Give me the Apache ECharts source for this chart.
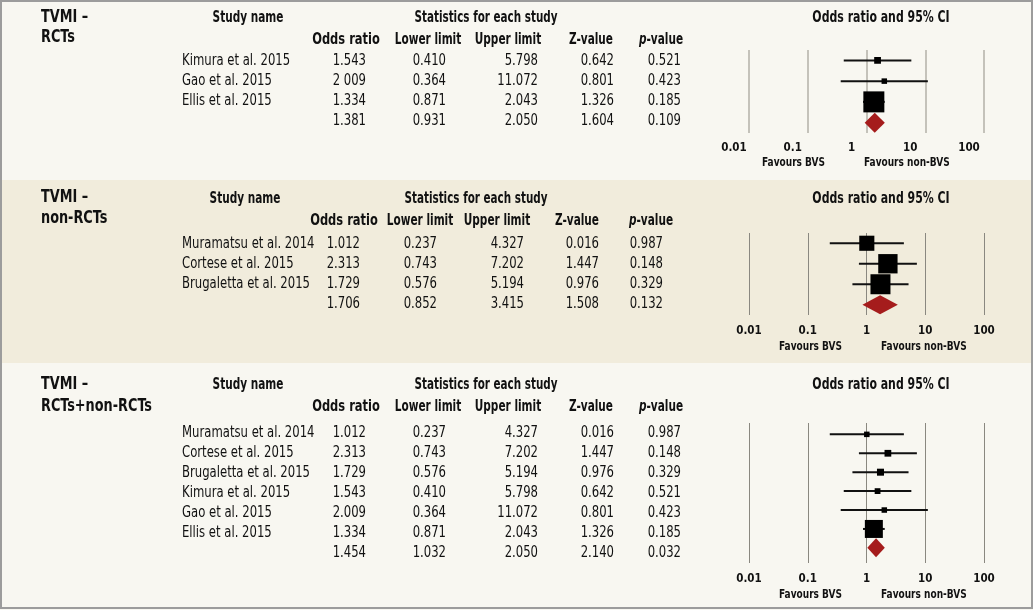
<!DOCTYPE html>
<html>
<head>
<meta charset="utf-8">
<script src="https://cdn.jsdelivr.net/npm/echarts@6/dist/echarts.min.js"></script>
<style>
html,body{margin:0;padding:0;background:#f8f7f1;}
#chart{width:1033px;height:610px;}
</style>
</head>
<body>
<div id="chart"></div>
<script>
// ---------- DATA ----------
const tickLabels = ['0.01', '0.1', '1', '10', '100'];

// Panel 1: TVMI – RCTs
const p1Studies = ['Kimura et al. 2015', 'Gao et al. 2015', 'Ellis et al. 2015'];
const p1OR     = [1.543, 2.009, 1.334];
const p1ORText = ['1.543', '2 009', '1.334'];
const p1Lower  = [0.410, 0.364, 0.871];
const p1Upper  = [5.798, 11.072, 2.043];
const p1Z      = [0.642, 0.801, 1.326];
const p1P      = [0.521, 0.423, 0.185];
const p1Weight = [8.9, 5.4, 85.7];
const p1Summary = [1.381, 0.931, 2.050, 1.604, 0.109];

// Panel 2: TVMI – non-RCTs
const p2Studies = ['Muramatsu et al. 2014', 'Cortese et al. 2015', 'Brugaletta et al. 2015'];
const p2OR     = [1.012, 2.313, 1.729];
const p2Lower  = [0.237, 0.743, 0.576];
const p2Upper  = [4.327, 7.202, 5.194];
const p2Z      = [0.016, 1.447, 0.976];
const p2P      = [0.987, 0.148, 0.329];
const p2Weight = [22.8, 37.3, 39.9];
const p2Summary = [1.706, 0.852, 3.415, 1.508, 0.132];

// Panel 3: TVMI – RCTs+non-RCTs
const p3Studies = ['Muramatsu et al. 2014', 'Cortese et al. 2015', 'Brugaletta et al. 2015',
                   'Kimura et al. 2015', 'Gao et al. 2015', 'Ellis et al. 2015'];
const p3OR     = [1.012, 2.313, 1.729, 1.543, 2.009, 1.334];
const p3Lower  = [0.237, 0.743, 0.576, 0.410, 0.364, 0.871];
const p3Upper  = [4.327, 7.202, 5.194, 5.798, 11.072, 2.043];
const p3Z      = [0.016, 1.447, 0.976, 0.642, 0.801, 1.326];
const p3P      = [0.987, 0.148, 0.329, 0.521, 0.423, 0.185];
const p3Weight = [5.6, 9.1, 9.8, 6.7, 4.1, 64.7];
const p3Summary = [1.454, 1.032, 2.050, 2.140, 0.032];

// ---------- LAYOUT / STYLE ----------
const FONT = "'Liberation Sans Narrow','DejaVu Sans Condensed','Arial Narrow',sans-serif";
const colsA = {or: [366, 346], ll: [446, 428], ul: [538, 508], z: [614, 591], p: [681, 661]};
const colsB = {or: [360, 344], ll: [437, 420], ul: [524, 497], z: [599, 577], p: [663, 651]};

const panels = [
  {title: ['TVMI –', 'RCTs'], studies: p1Studies, or: p1OR, orText: p1ORText, lo: p1Lower, up: p1Upper,
   z: p1Z, p: p1P, w: p1Weight, sum: p1Summary,
   bg: [0, 180, '#f8f7f1'], titleY: [18, 38], head1: 18, head2: 40, row0: 61, step: 20,
   gridTop: 50, gridH: 83, yMin: -0.5, yMax: 3.5, favY: 163, favL: 825, favR: 864,
   labelMargin: 9, labelShift: 30, gridColor: '#c4c2ba', gridWidth: 2,
   studyX: 248, statsX: 486, cols: colsA, maxSq: 21, dH: 20},
  {title: ['TVMI –', 'non-RCTs'], studies: p2Studies, or: p2OR, lo: p2Lower, up: p2Upper,
   z: p2Z, p: p2P, w: p2Weight, sum: p2Summary,
   bg: [180, 363, '#f1ecdc'], titleY: [198, 219], head1: 199, head2: 221, row0: 244, step: 20,
   gridTop: 233, gridH: 82, yMin: -0.5, yMax: 3.5, favY: 347, favL: 842, favR: 881,
   labelMargin: 10, labelShift: 0, gridColor: '#8a8880', gridWidth: 1,
   studyX: 245, statsX: 476, cols: colsB, maxSq: 20, dH: 19},
  {title: ['TVMI –', 'RCTs+non-RCTs'], studies: p3Studies, or: p3OR, lo: p3Lower, up: p3Upper,
   z: p3Z, p: p3P, w: p3Weight, sum: p3Summary,
   bg: [363, 610, '#f8f7f1'], titleY: [385, 407], head1: 385, head2: 407, row0: 433, step: 20,
   gridTop: 423, gridH: 140, yMin: -0.6, yMax: 6.8, favY: 595, favL: 842, favR: 881,
   labelMargin: 10, labelShift: 0, gridColor: '#8a8880', gridWidth: 1,
   studyX: 248, statsX: 486, cols: colsA, maxSq: 18, dH: 19}
];

const graphics = [];
const grids = [], xAxes = [], yAxes = [], series = [];

function txt(text, x, y, opt) {
  opt = opt || {};
  const sx = opt.sx || (opt.bold ? 0.78 : 0.81);
  const el = {
    type: 'text', z: 10, silent: true, x: x, y: y, scaleX: sx, scaleY: 1,
    style: {
      text: text, x: 0, y: 0,
      font: (opt.bold ? 'bold ' : '') + (opt.size || 16) + 'px ' + FONT,
      fill: '#111', align: opt.align || 'left', verticalAlign: 'middle'
    }
  };
  if (opt.rich) el.style.rich = opt.rich;
  graphics.push(el);
}
const f3 = v => v.toFixed(3);

panels.forEach((P, i) => {
  // background
  graphics.push({type: 'rect', z: 0, silent: true,
    shape: {x: 0, y: P.bg[0], width: 1033, height: P.bg[1] - P.bg[0]},
    style: {fill: P.bg[2]}});
  // section title
  txt(P.title[0], 41, P.titleY[0], {bold: true, size: 17, sx: 0.84});
  txt(P.title[1], 41, P.titleY[1], {bold: true, size: 17, sx: 0.84});
  // headers
  txt('Study name', P.studyX, P.head1, {bold: true, size: 15, align: 'center'});
  txt('Statistics for each study', P.statsX, P.head1, {bold: true, size: 15, sx: 0.77, align: 'center'});
  txt('Odds ratio', P.cols.or[1], P.head2, {bold: true, size: 15, sx: 0.85, align: 'center'});
  txt('Lower limit', P.cols.ll[1], P.head2, {bold: true, size: 15, align: 'center'});
  txt('Upper limit', P.cols.ul[1], P.head2, {bold: true, size: 15, align: 'center'});
  txt('Z-value', P.cols.z[1], P.head2, {bold: true, size: 15, align: 'center'});
  txt('{i|p}-value', P.cols.p[1], P.head2, {bold: true, size: 15, align: 'center',
      rich: {i: {fontStyle: 'italic', fontWeight: 'bold', fontSize: 15, fontFamily: FONT, fill: '#111'}}});
  txt('Odds ratio and 95% CI', 881, P.head1, {bold: true, size: 16, sx: 0.76, align: 'center'});
  txt('Favours BVS', P.favL, P.favY, {bold: true, size: 13, sx: 0.77, align: 'right'});
  txt('Favours non-BVS', P.favR, P.favY, {bold: true, size: 13, sx: 0.77, align: 'left'});

  const data = [];
  P.studies.forEach((s, k) => {
    const y = P.row0 + k * P.step;
    txt(s, 182, y);
    txt(P.orText ? P.orText[k] : f3(P.or[k]), P.cols.or[0], y, {align: 'right'});
    txt(f3(P.lo[k]), P.cols.ll[0], y, {align: 'right'});
    txt(f3(P.up[k]), P.cols.ul[0], y, {align: 'right'});
    txt(f3(P.z[k]), P.cols.z[0], y, {align: 'right'});
    txt(f3(P.p[k]), P.cols.p[0], y, {align: 'right'});
    data.push([P.or[k], P.lo[k], P.up[k], k, P.w[k], 0]);
  });
  const ys = P.row0 + P.studies.length * P.step;
  const sv = P.sum;
  const colList = [P.cols.or, P.cols.ll, P.cols.ul, P.cols.z, P.cols.p];
  sv.forEach((v, c) => txt(f3(v), colList[c][0], ys, {align: 'right'}));
  data.push([sv[0], sv[1], sv[2], P.studies.length, 0, 1]);

  const maxW = Math.max.apply(null, P.w);

  grids.push({left: 749, width: 235, top: P.gridTop, height: P.gridH, containLabel: false});
  xAxes.push({
    type: 'log', logBase: 10, gridIndex: i, min: 0.01, max: 100, interval: 1,
    axisLine: {show: false}, axisTick: {show: false},
    splitLine: {show: true, lineStyle: {color: P.gridColor, width: P.gridWidth}},
    axisLabel: {
      show: true, margin: P.labelMargin, color: '#111', fontWeight: 'bold', fontSize: 11.5,
      fontFamily: FONT, padding: [0, P.labelShift, 0, 0],
      formatter: v => {
        const idx = Math.round(Math.log10(v)) + 2;
        return tickLabels[idx] !== undefined ? tickLabels[idx] : '';
      }
    }
  });
  yAxes.push({type: 'value', gridIndex: i, inverse: true, min: P.yMin, max: P.yMax, show: false});
  series.push({
    type: 'custom', xAxisIndex: i, yAxisIndex: i, z: 5,
    encode: {x: [0, 1, 2], y: 3},
    data: data,
    renderItem: function (params, api) {
      const row = api.value(3);
      const pO = api.coord([api.value(0), row]);
      const pL = api.coord([api.value(1), row]);
      const pU = api.coord([api.value(2), row]);
      if (api.value(5) === 1) {
        const h = P.dH / 2;
        return {type: 'polygon',
          shape: {points: [[pL[0], pO[1]], [pO[0], pO[1] - h], [pU[0], pO[1]], [pO[0], pO[1] + h]]},
          style: {fill: '#a51c1c'}};
      }
      const s = Math.max(5.5, P.maxSq * Math.sqrt(api.value(4) / maxW));
      return {type: 'group', children: [
        {type: 'line', shape: {x1: pL[0], y1: pO[1], x2: pU[0], y2: pO[1]},
         style: {stroke: '#111', lineWidth: 2}},
        {type: 'rect', shape: {x: pO[0] - s / 2, y: pO[1] - s / 2, width: s, height: s},
         style: {fill: '#000'}}
      ]};
    }
  });
});

// outer frame
graphics.push({type: 'rect', z: 20, silent: true,
  shape: {x: 1, y: 1, width: 1031, height: 607},
  style: {fill: 'none', stroke: '#9c9c9c', lineWidth: 2}});

const chart = echarts.init(document.getElementById('chart'), null, {renderer: 'canvas'});
chart.setOption({
  animation: false,
  backgroundColor: '#f8f7f1',
  grid: grids, xAxis: xAxes, yAxis: yAxes, series: series,
  graphic: {elements: graphics}
});
</script>
</body>
</html>
